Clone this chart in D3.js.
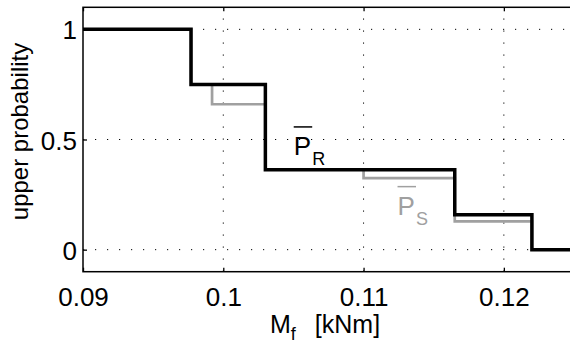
<!DOCTYPE html>
<html>
<head>
<meta charset="utf-8">
<script src="https://cdn.jsdelivr.net/npm/d3@7"></script>
<style>
  html, body { margin: 0; padding: 0; background: #fff; }
  svg { display: block; font-family: "Liberation Sans", Arial, Helvetica, sans-serif; }
</style>
</head>
<body>
<div id="wrapper"></div>
<script>
// step breakpoints (x) and the value held from each breakpoint onward
const xBreaksR = [0.09, 0.0977, 0.1030, 0.1165, 0.1220, 0.125];
const upperR   = [1,    0.75,   0.363,  0.159,  0,      0];
const xBreaksS = [0.09, 0.0977, 0.0992, 0.1030, 0.1100, 0.1165, 0.1220, 0.125];
const upperS   = [1,    0.75,   0.66,   0.363,  0.325,  0.128,  0,      0];

const xTicks = [0.09, 0.1, 0.11, 0.12];
const xTickLabels = ["0.09", "0.1", "0.11", "0.12"];
const yTicks = [0, 0.5, 1];
const yTickLabels = ["0", "0.5", "1"];

// annotation anchors in data units
const labelR = { x: 0.10502, y: 0.43, sub: "R" };
const labelS = { x: 0.11242, y: 0.159, sub: "S" };

function drawChart() {
    const dimensions = {
        width: 570,
        height: 343,
        margin: { top: 7.3, left: 83 },
        boundedWidth: 491,
        boundedHeight: 264.4,
    };

    const svg = d3.select("#wrapper")
        .append("svg")
        .attr("width", dimensions.width)
        .attr("height", dimensions.height);

    const bounds = svg.append("g")
        .attr("transform", `translate(${dimensions.margin.left}, ${dimensions.margin.top})`);

    const xScale = d3.scaleLinear()
        .domain([0.09, 0.125])
        .range([0, dimensions.boundedWidth]);

    const yScale = d3.scaleLinear()
        .domain([-0.1, 1.1])
        .range([dimensions.boundedHeight, 0]);

    // dotted grid
    const grid = bounds.append("g")
        .attr("stroke", "#000")
        .attr("stroke-width", 1)
        .attr("stroke-dasharray", "1.2,10.8");
    grid.selectAll(".vgrid")
        .data(xTicks.slice(1))
        .enter().append("line")
        .attr("x1", d => xScale(d)).attr("x2", d => xScale(d))
        .attr("y1", dimensions.boundedHeight).attr("y2", 0);
    grid.selectAll(".hgrid")
        .data(yTicks)
        .enter().append("line")
        .attr("x1", 0).attr("x2", dimensions.boundedWidth)
        .attr("y1", d => yScale(d)).attr("y2", d => yScale(d));

    // step curves
    const stepLine = d3.line()
        .x(d => xScale(d[0]))
        .y(d => yScale(d[1]))
        .curve(d3.curveStepAfter);

    bounds.append("path")
        .attr("d", stepLine(d3.zip(xBreaksS, upperS)))
        .attr("fill", "none")
        .attr("stroke", "#a0a0a0")
        .attr("stroke-width", 2.7);

    bounds.append("path")
        .attr("d", stepLine(d3.zip(xBreaksR, upperR)))
        .attr("fill", "none")
        .attr("stroke", "#000")
        .attr("stroke-width", 3.5);

    // axes with inward ticks
    const xAxisGenerator = d3.axisBottom(xScale)
        .tickValues(xTicks)
        .tickFormat((d, i) => xTickLabels[i])
        .tickSizeInner(-4)
        .tickSizeOuter(0)
        .tickPadding(16);
    const xAxis = bounds.append("g")
        .attr("transform", `translate(0, ${dimensions.boundedHeight})`)
        .call(xAxisGenerator);

    const xAxisTop = bounds.append("g")
        .call(d3.axisTop(xScale).tickValues(xTicks).tickFormat("").tickSizeInner(-4).tickSizeOuter(0));

    const yAxisGenerator = d3.axisLeft(yScale)
        .tickValues(yTicks)
        .tickFormat((d, i) => yTickLabels[i])
        .tickSizeInner(-4)
        .tickSizeOuter(0)
        .tickPadding(6);
    const yAxis = bounds.append("g").call(yAxisGenerator);

    const yAxisRight = bounds.append("g")
        .attr("transform", `translate(${dimensions.boundedWidth}, 0)`)
        .call(d3.axisRight(yScale).tickValues(yTicks).tickFormat("").tickSizeInner(-4).tickSizeOuter(0));

    [xAxis, xAxisTop, yAxis, yAxisRight].forEach(ax => {
        ax.select(".domain").remove();
        ax.selectAll("line").attr("stroke", "#000").attr("stroke-width", 1.3);
        ax.selectAll("text")
            .attr("fill", "#000")
            .style("font-size", "26px")
            .style("font-family", "'Liberation Sans', Arial, sans-serif");
    });
    yAxis.selectAll("text").attr("dy", "0.37em");

    // box
    bounds.append("rect")
        .attr("width", dimensions.boundedWidth)
        .attr("height", dimensions.boundedHeight)
        .attr("fill", "none")
        .attr("stroke", "#000")
        .attr("stroke-width", 1.5);

    // curve labels: P with overbar and subscript
    const addLabel = (lab, color) => {
        const g = bounds.append("g")
            .attr("transform", `translate(${xScale(lab.x)}, ${yScale(lab.y)})`)
            .attr("fill", color);
        g.append("text")
            .attr("x", 0).attr("y", 0)
            .style("font-size", "26px")
            .text("P");
        g.append("text")
            .attr("x", 18.5).attr("y", 10)
            .style("font-size", "18px")
            .text(lab.sub);
        g.append("line")
            .attr("x1", 0).attr("x2", 18.5)
            .attr("y1", -28).attr("y2", -28)
            .attr("stroke", color)
            .attr("stroke-width", 1.5);
    };
    addLabel(labelR, "#000");
    addLabel(labelS, "#a0a0a0");

    // axis titles
    const xTitle = svg.append("text")
        .attr("x", 270)
        .attr("y", 333)
        .attr("fill", "#000")
        .style("font-size", "25px");
    xTitle.append("tspan").text("M");
    xTitle.append("tspan").attr("dy", 7).style("font-size", "18px").text("f");
    xTitle.append("tspan").attr("dy", -7).attr("dx", 19).text("[kNm]");

    svg.append("text")
        .attr("transform", `translate(28, ${dimensions.margin.top + yScale(0.5) - 8}) rotate(-90)`)
        .attr("text-anchor", "middle")
        .attr("fill", "#000")
        .style("font-size", "24px")
        .text("upper probability");
}

drawChart();
</script>
</body>
</html>
